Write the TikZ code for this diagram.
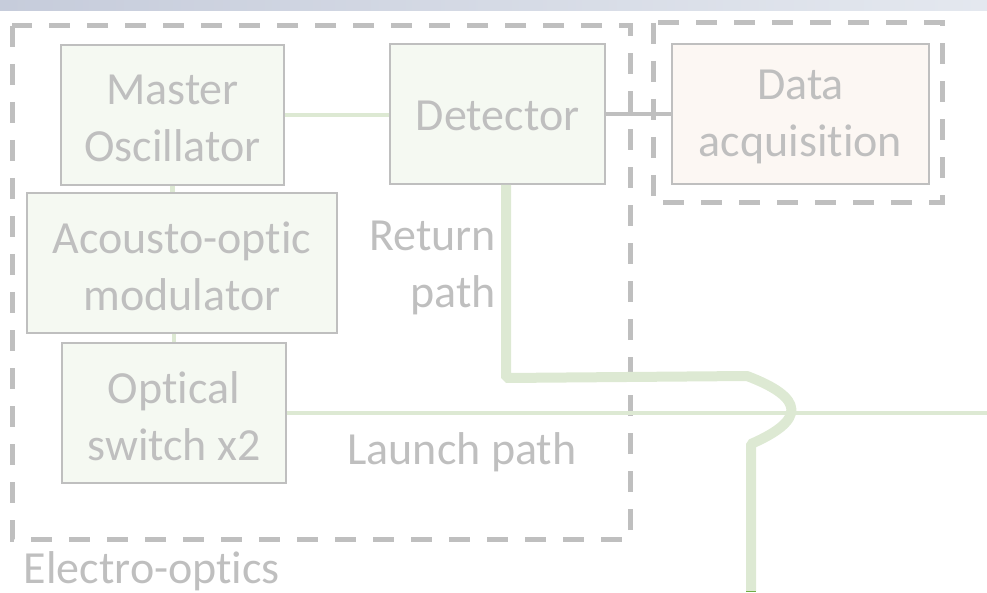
\documentclass[tikz,border=0pt]{standalone}
\usepackage{fontspec}
\setmainfont[Ligatures={NoCommon,NoContextual}]{Carlito}
\definecolor{txtgray}{HTML}{BFBFBF}
\definecolor{boxgreen}{HTML}{F5F9F2}
\definecolor{boxpeach}{HTML}{FCF7F3}
\definecolor{linegreen}{HTML}{DDE9D3}
\definecolor{darkgreen}{HTML}{70AD47}
\begin{document}
\begin{tikzpicture}[x=1pt,y=-1pt,
  blk/.style={draw=txtgray, line width=2pt, fill=boxgreen, inner sep=0pt},
  lbl/.style={text=txtgray, inner sep=0pt, align=center, font=\fontsize{46}{57}\selectfont},
  grp/.style={draw=txtgray, line width=5pt, dash pattern=on 21pt off 17pt},
  gline/.style={draw=linegreen, line width=4.5pt},
  rline/.style={draw=linegreen, line width=10pt, line join=bevel}]
\useasboundingbox (0,0) rectangle (987,593);
\shade[left color={rgb,255:red,198;green,204;blue,219}, right color={rgb,255:red,228;green,232;blue,239}] (0,0) rectangle (987,11);

% group boxes
\draw[grp] (12,26) rectangle (630,539);
\draw[grp] (653,23) rectangle (942,203);

% blocks
\node[blk, minimum width=223pt, minimum height=140pt,
  label={[lbl, yshift=-3pt]center:Master\\Oscillator}] (MO) at (172.5,115) {};
\node[blk, minimum width=215pt, minimum height=140pt,
  label={[lbl, yshift=-2pt]center:Detector}] (DET) at (497.5,114) {};
\node[blk, fill=boxpeach, minimum width=257pt, minimum height=140pt,
  label={[lbl, yshift=-3pt]center:Data\\acquisition}] (DAQ) at (800.5,114) {};
\node[blk, minimum width=310pt, minimum height=140pt,
  label={[lbl, yshift=-3pt]center:Acousto-optic\\modulator}] (AOM) at (182,263) {};
\node[blk, minimum width=224pt, minimum height=140pt,
  label={[lbl, yshift=-3pt]center:Optical\\switch x2}] (OS) at (174,413) {};

% labels
\node[lbl, align=right, anchor=east] (RP) at (496,268) {Return\\path};
\node[lbl] (LP) at (462,452) {Launch path};
\node[lbl] (EO) at (152,571) {Electro-optics};

% connectors
\draw[gline] (MO.east) -- (MO.east -| DET.west);
\draw[gline] (MO.south) -- (MO.south |- AOM.north);
\draw[gline] (OS.north) -- (OS.north |- AOM.south);
\draw[txtgray, line width=4pt] (DET.east) -- (DET.east -| DAQ.west);

\coordinate (LEnd) at (987,413);
\draw[gline] (OS.east |- LEnd) -- (LEnd);

\coordinate (R0) at ([xshift=8.5pt]DET.south);
\coordinate (R1) at (506,378);
\coordinate (R2) at (747,376);
\coordinate (R3) at (751,444);
\coordinate (R4) at (751,591);
\draw[rline] (R0) -- (R1) -- (R2) .. controls (805,398) and (806,420) .. (R3) -- (R4);
\draw[darkgreen, line width=1pt] ([xshift=-5pt]R4) -- ([xshift=5pt]R4);
\end{tikzpicture}
\end{document}
